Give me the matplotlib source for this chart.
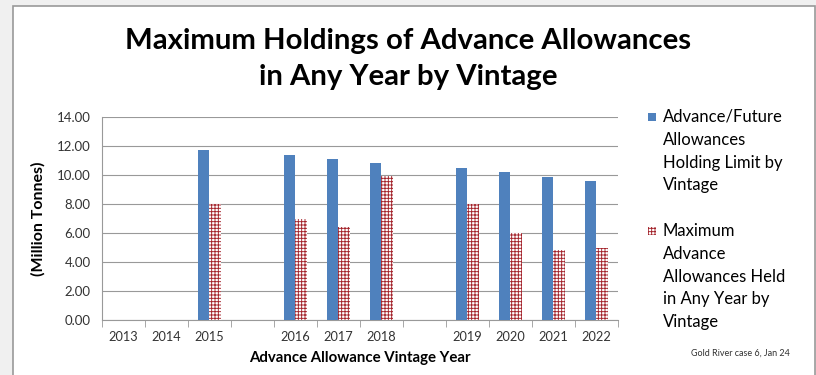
import numpy as np
import matplotlib.pyplot as plt
from matplotlib.patches import Rectangle

# category labels (blank slots are gaps in the original chart)
years = ['2013', '2014', '2015', '', '2016', '2017', '2018', '', '2019', '2020', '2021', '2022']
holding_limit = [np.nan, np.nan, 11.72, np.nan, 11.38, 11.10, 10.83, np.nan, 10.50, 10.23, 9.86, 9.60]
max_held = [np.nan, np.nan, 7.98, np.nan, 6.97, 6.43, 9.93, np.nan, 7.98, 5.98, 4.83, 4.94]
legend_lines = [['Advance/Future', 'Allowances', 'Holding Limit by', 'Vintage'],
                ['Maximum', 'Advance', 'Allowances Held', 'in Any Year by', 'Vintage']]

blue = '#4F81BD'
red = '#A3222A'
font = ['Lato', 'DejaVu Sans']

plt.rcParams['font.family'] = font
plt.rcParams['hatch.linewidth'] = 0.65

W, H = 816, 375
fig = plt.figure(figsize=(W / 100, H / 100), dpi=100, facecolor='#f0f0f0')
# white slide area with gray frame
fig.patches.append(Rectangle((12.5 / W, -0.01), (815 - 12.5) / W, (H - 6) / H + 0.01,
                             transform=fig.transFigure, facecolor='white',
                             edgecolor='#999999', linewidth=1.2, zorder=-5))

ax = fig.add_axes([101.7 / W, 1 - 320 / H, (617.7 - 101.7) / W, (320 - 117.3) / H])
ax.set_facecolor('white')

x = np.arange(len(years))
bw = 0.27
ax.bar(x - bw / 2, holding_limit, bw, color=blue, linewidth=0, zorder=3)
ax.bar(x + bw / 2, max_held, bw, facecolor='white', edgecolor=red, hatch='+++++',
       linewidth=0, zorder=3)

ax.set_xlim(-0.5, len(years) - 0.5)
ax.set_ylim(0, 14)
ax.set_yticks(np.arange(0, 14.1, 2))
ax.set_yticklabels(['%.2f' % v for v in np.arange(0, 14.1, 2)], fontsize=9.5, color='#333333')
ax.set_xticks(x)
ax.set_xticklabels(years, fontsize=9.2, color='#333333')
ax.set_xticks(np.arange(-0.5, len(years), 1), minor=True)
ax.tick_params(axis='x', which='major', length=0, pad=8)
ax.tick_params(axis='x', which='minor', length=5, color='#999999')
ax.tick_params(axis='y', length=0, pad=8)
ax.grid(axis='y', color='#999999', linewidth=0.8, zorder=0)

for s in ['top', 'right']:
    ax.spines[s].set_visible(False)
for s in ['left', 'bottom']:
    ax.spines[s].set_color('#999999')
    ax.spines[s].set_linewidth(0.8)

ax.set_ylabel('(Million Tonnes)', fontsize=11.5, fontweight='bold', labelpad=8)
ax.set_xlabel('Advance Allowance Vintage Year', fontsize=10.8, fontweight='bold', labelpad=6)

fig.text(0.5, 1 - 41 / H, 'Maximum Holdings of Advance Allowances', ha='center', va='center',
         fontsize=21.2, fontweight='bold')
fig.text(0.5, 1 - 77 / H, 'in Any Year by Vintage', ha='center', va='center',
         fontsize=21.2, fontweight='bold')

# legend drawn by hand so the marker sits beside the first text line
starts = [117, 231]
for lines, y0, kind in zip(legend_lines, starts, ['solid', 'hatch']):
    if kind == 'solid':
        r = Rectangle((648 / W, 1 - (y0 + 4) / H), 8 / W, 8 / H, transform=fig.transFigure,
                      facecolor=blue, linewidth=0)
    else:
        r = Rectangle((648 / W, 1 - (y0 + 4) / H), 8 / W, 8 / H, transform=fig.transFigure,
                      facecolor='white', edgecolor=red, hatch='+++++', linewidth=0)
    fig.patches.append(r)
    for i, line in enumerate(lines):
        fig.text(663 / W, 1 - (y0 + i * 22.8) / H, line, ha='left', va='center', fontsize=12)

fig.text(790 / W, 1 - 353 / H, 'Gold River case 6, Jan 24', ha='right', va='center',
         fontsize=6.5, color='#333333')

fig.savefig('out.png', dpi=100, facecolor=fig.get_facecolor())
